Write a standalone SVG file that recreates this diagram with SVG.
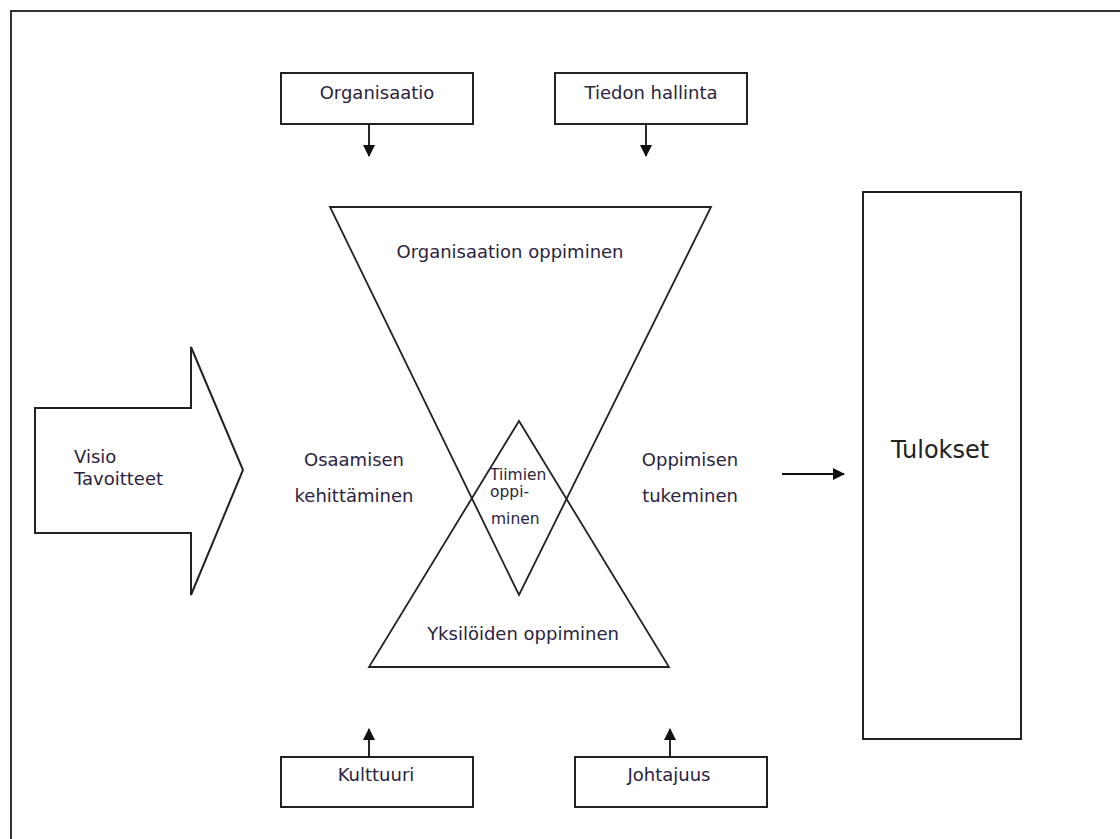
<svg xmlns="http://www.w3.org/2000/svg" width="1120" height="839" viewBox="0 0 1120 839">
  <defs>
    <marker id="head" viewBox="0 0 12 12" refX="11" refY="6" markerWidth="12" markerHeight="13" markerUnits="userSpaceOnUse" orient="auto">
      <path d="M0,0 L12,6 L0,12 Z" fill="#111"/>
    </marker>
    <style>
      .box { fill: #fff; stroke: #222; stroke-width: 2; }
      .shape { fill: none; stroke: #222; stroke-width: 1.8; }
      .lbl { font-family: "DejaVu Sans", "Liberation Sans", sans-serif; font-size: 18px; fill: #2b2340; }
      .mid { text-anchor: middle; }
      .small { font-size: 15.5px; }
      .big { font-size: 24px; fill: #222; }
      .conn { stroke: #111; stroke-width: 1.8; fill: none; marker-end: url(#head); }
    </style>
  </defs>

  <rect width="1120" height="839" fill="#fff"/>
  <!-- page frame, open at the right and bottom -->
  <path d="M11,839 V11 H1120" fill="none" stroke="#333" stroke-width="2"/>

  <g id="organisaatio">
    <rect class="box" x="281" y="73" width="192" height="51"/>
    <text class="lbl mid" x="377" y="99">Organisaatio</text>
  </g>
  <g id="tiedon-hallinta">
    <rect class="box" x="555" y="73" width="192" height="51"/>
    <text class="lbl mid" x="651" y="99">Tiedon hallinta</text>
  </g>

  <g id="organisaation-oppiminen">
    <polygon class="shape" points="330,207 711,207 519,595"/>
    <text class="lbl mid" x="510" y="258">Organisaation oppiminen</text>
  </g>
  <g id="yksiloiden-oppiminen">
    <polygon class="shape" points="369,667 669,667 519,421"/>
    <text class="lbl mid" x="523" y="640">Yksilöiden oppiminen</text>
  </g>
  <g id="tiimien-oppiminen">
    <text class="lbl small" x="490" y="480">Tiimien</text>
    <text class="lbl small" x="490" y="497">oppi-</text>
    <text class="lbl small" x="491" y="524">minen</text>
  </g>

  <g id="visio">
    <polygon class="box" points="35,408 191,408 191,347 243,470 191,595 191,533 35,533"/>
    <text class="lbl" x="74" y="463">Visio</text>
    <text class="lbl" x="74" y="485">Tavoitteet</text>
  </g>

  <g id="osaamisen-kehittaminen">
    <text class="lbl mid" x="354" y="466">Osaamisen</text>
    <text class="lbl mid" x="354" y="502">kehittäminen</text>
  </g>
  <g id="oppimisen-tukeminen">
    <text class="lbl mid" x="690" y="466">Oppimisen</text>
    <text class="lbl mid" x="690" y="502">tukeminen</text>
  </g>

  <g id="tulokset">
    <rect class="box" x="863" y="192" width="158" height="547"/>
    <text class="lbl big" x="891" y="458">Tulokset</text>
  </g>

  <g id="kulttuuri">
    <rect class="box" x="281" y="757" width="192" height="50"/>
    <text class="lbl mid" x="376" y="781">Kulttuuri</text>
  </g>
  <g id="johtajuus">
    <rect class="box" x="575" y="757" width="192" height="50"/>
    <text class="lbl mid" x="669" y="781">Johtajuus</text>
  </g>

  <g id="connectors">
    <line class="conn" x1="369" y1="124" x2="369" y2="156"/>
    <line class="conn" x1="646" y1="124" x2="646" y2="156"/>
    <line class="conn" x1="369" y1="757" x2="369" y2="729"/>
    <line class="conn" x1="670" y1="757" x2="670" y2="729"/>
    <line class="conn" x1="782" y1="474" x2="844" y2="474"/>
  </g>
</svg>
